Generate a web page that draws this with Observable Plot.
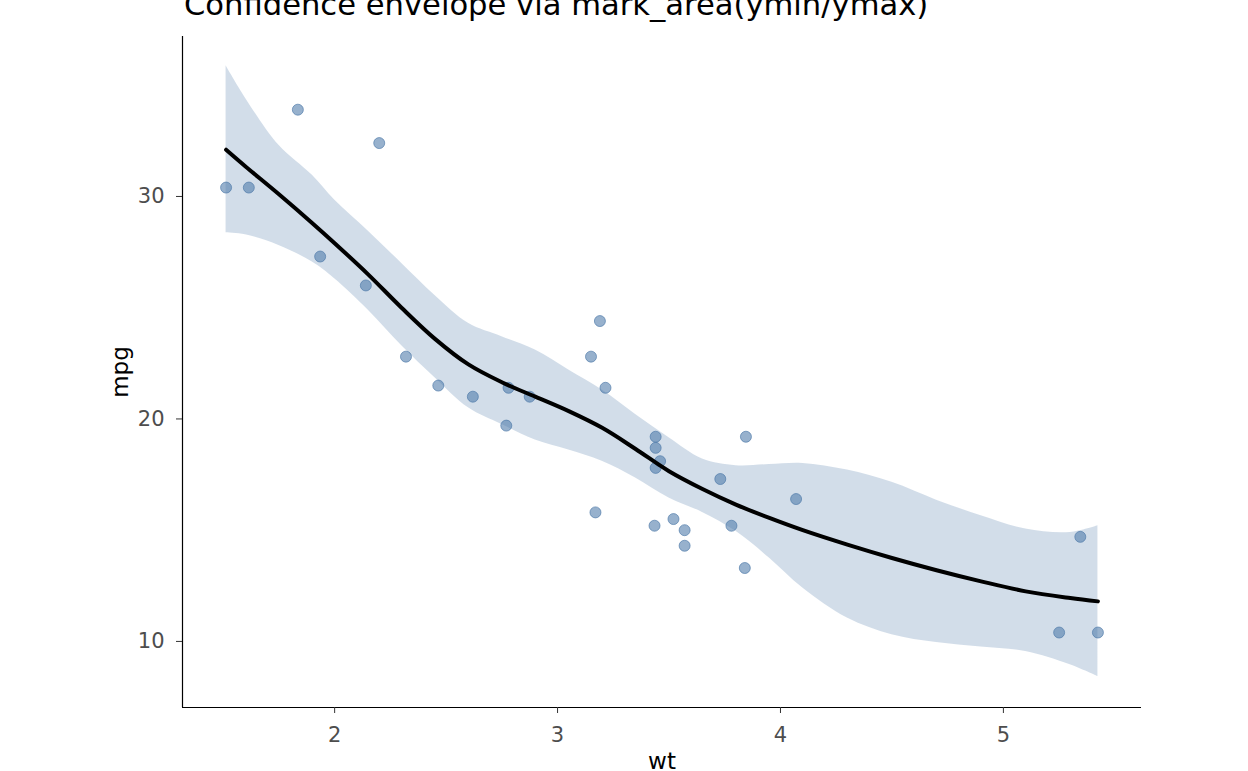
<!DOCTYPE html>
<html>
<head>
<meta charset="utf-8">
<script src="https://cdn.jsdelivr.net/npm/d3@7"></script>
<script src="https://cdn.jsdelivr.net/npm/@observablehq/plot@0.6"></script>
<style>
  html, body { margin: 0; padding: 0; background: #fff; }
  #wrap { position: relative; width: 1248px; height: 771px; overflow: hidden; font-family: "DejaVu Sans", sans-serif; }
  #title { position: absolute; left: 184px; top: -10px; font-size: 30.6px; line-height: 30px; color: #000; white-space: nowrap; }
  #chart { position: absolute; left: 0; top: 0; }
</style>
</head>
<body>
<div id="wrap">
  <div id="chart"></div>
  <div id="title">Confidence envelope via mark_area(ymin/ymax)</div>
</div>
<script>
// Scatter points (wt, mpg)
const wt  = [2.620, 2.875, 2.320, 3.215, 3.440, 3.460, 3.570, 3.190, 3.150, 3.440, 3.440, 4.070, 3.730, 3.780, 5.250, 5.424,
             5.345, 2.200, 1.615, 1.835, 2.465, 3.520, 3.435, 3.840, 3.845, 1.935, 2.140, 1.513, 3.170, 2.770, 3.570, 2.780];
const mpg = [21.0, 21.0, 22.8, 21.4, 18.7, 18.1, 14.3, 24.4, 22.8, 19.2, 17.8, 16.4, 17.3, 15.2, 10.4, 10.4,
             14.7, 32.4, 30.4, 33.9, 21.5, 15.5, 15.2, 13.3, 19.2, 27.3, 26.0, 30.4, 15.8, 19.7, 15.0, 21.4];

// Smooth fit and envelope
const smoothX  = [1.513, 1.6, 1.75, 1.9, 2.0, 2.15, 2.3, 2.45, 2.6, 2.75, 2.9, 3.05, 3.2, 3.35, 3.5, 3.65, 3.8, 3.95, 4.1, 4.3, 4.5, 4.7, 4.9, 5.1, 5.3, 5.424];
const smoothY  = [32.1, 31.35, 30.1, 28.8, 27.9, 26.5, 25.0, 23.6, 22.45, 21.65, 21.0, 20.35, 19.6, 18.65, 17.65, 16.85, 16.15, 15.55, 15.0, 14.35, 13.75, 13.2, 12.7, 12.25, 11.95, 11.8];
const upperY   = [35.87, 34.42, 32.3, 30.95, 29.84, 28.45, 27.0, 25.55, 24.3, 23.7, 23.1, 22.2, 21.3, 20.2, 19.15, 18.2, 17.9, 17.95, 18.0, 17.7, 17.15, 16.35, 15.65, 15.05, 14.9, 15.2];
const lowerY   = [28.37, 28.28, 27.8, 27.05, 26.3, 24.9, 23.3, 21.85, 20.5, 19.75, 19.05, 18.6, 18.1, 17.35, 16.45, 15.8, 14.95, 13.75, 12.4, 11.05, 10.3, 9.95, 9.75, 9.55, 8.95, 8.42];

const xTicks = [2, 3, 4, 5];
const yTicks = [10, 20, 30];
const xDomain = [1.3175, 5.6195];
const yDomain = [7.03, 37.19];

const points = wt.map((w, i) => ({wt: w, mpg: mpg[i]}));
const band = smoothX.map((x, i) => ({x, fit: smoothY[i], lo: lowerY[i], hi: upperY[i]}));

const color = "#4c78a8";
const fmt = d3.format("d");

const chart = Plot.plot({
  width: 1248,
  height: 771,
  marginLeft: 182,
  marginRight: 107,
  marginTop: 36,
  marginBottom: 64,
  style: {fontFamily: "DejaVu Sans, sans-serif", background: "#fff"},
  x: {domain: xDomain},
  y: {domain: yDomain},
  marks: [
    Plot.areaY(band, {x: "x", y1: "lo", y2: "hi", fill: color, fillOpacity: 0.25, curve: "catmull-rom"}),
    Plot.dot(points, {x: "wt", y: "mpg", r: 5.5, fill: color, fillOpacity: 0.58, stroke: color, strokeOpacity: 0.65, strokeWidth: 1}),
    Plot.line(band, {x: "x", y: "fit", stroke: "#000", strokeWidth: 4, curve: "catmull-rom", strokeLinecap: "round"}),
    Plot.ruleX([xDomain[0]], {stroke: "#000", strokeWidth: 1.2}),
    Plot.ruleY([yDomain[0]], {stroke: "#000", strokeWidth: 1.2}),
    Plot.axisX({ticks: xTicks, tickFormat: fmt, tickSize: 6, tickPadding: 14, fontSize: 21, stroke: "#333", fill: "#4d4d4d", label: null}),
    Plot.axisY({ticks: yTicks, tickFormat: fmt, tickSize: 6, tickPadding: 12, fontSize: 21, stroke: "#333", fill: "#4d4d4d", label: null}),
    Plot.text(["wt"], {frameAnchor: "bottom", textAnchor: "middle", dy: 61, lineAnchor: "bottom", fontSize: 23, fill: "#000", text: d => d}),
    Plot.text(["mpg"], {frameAnchor: "left", textAnchor: "middle", dx: -62, rotate: -90, fontSize: 23, fill: "#000", text: d => d})
  ]
});
document.getElementById("chart").appendChild(chart);
</script>
</body>
</html>
